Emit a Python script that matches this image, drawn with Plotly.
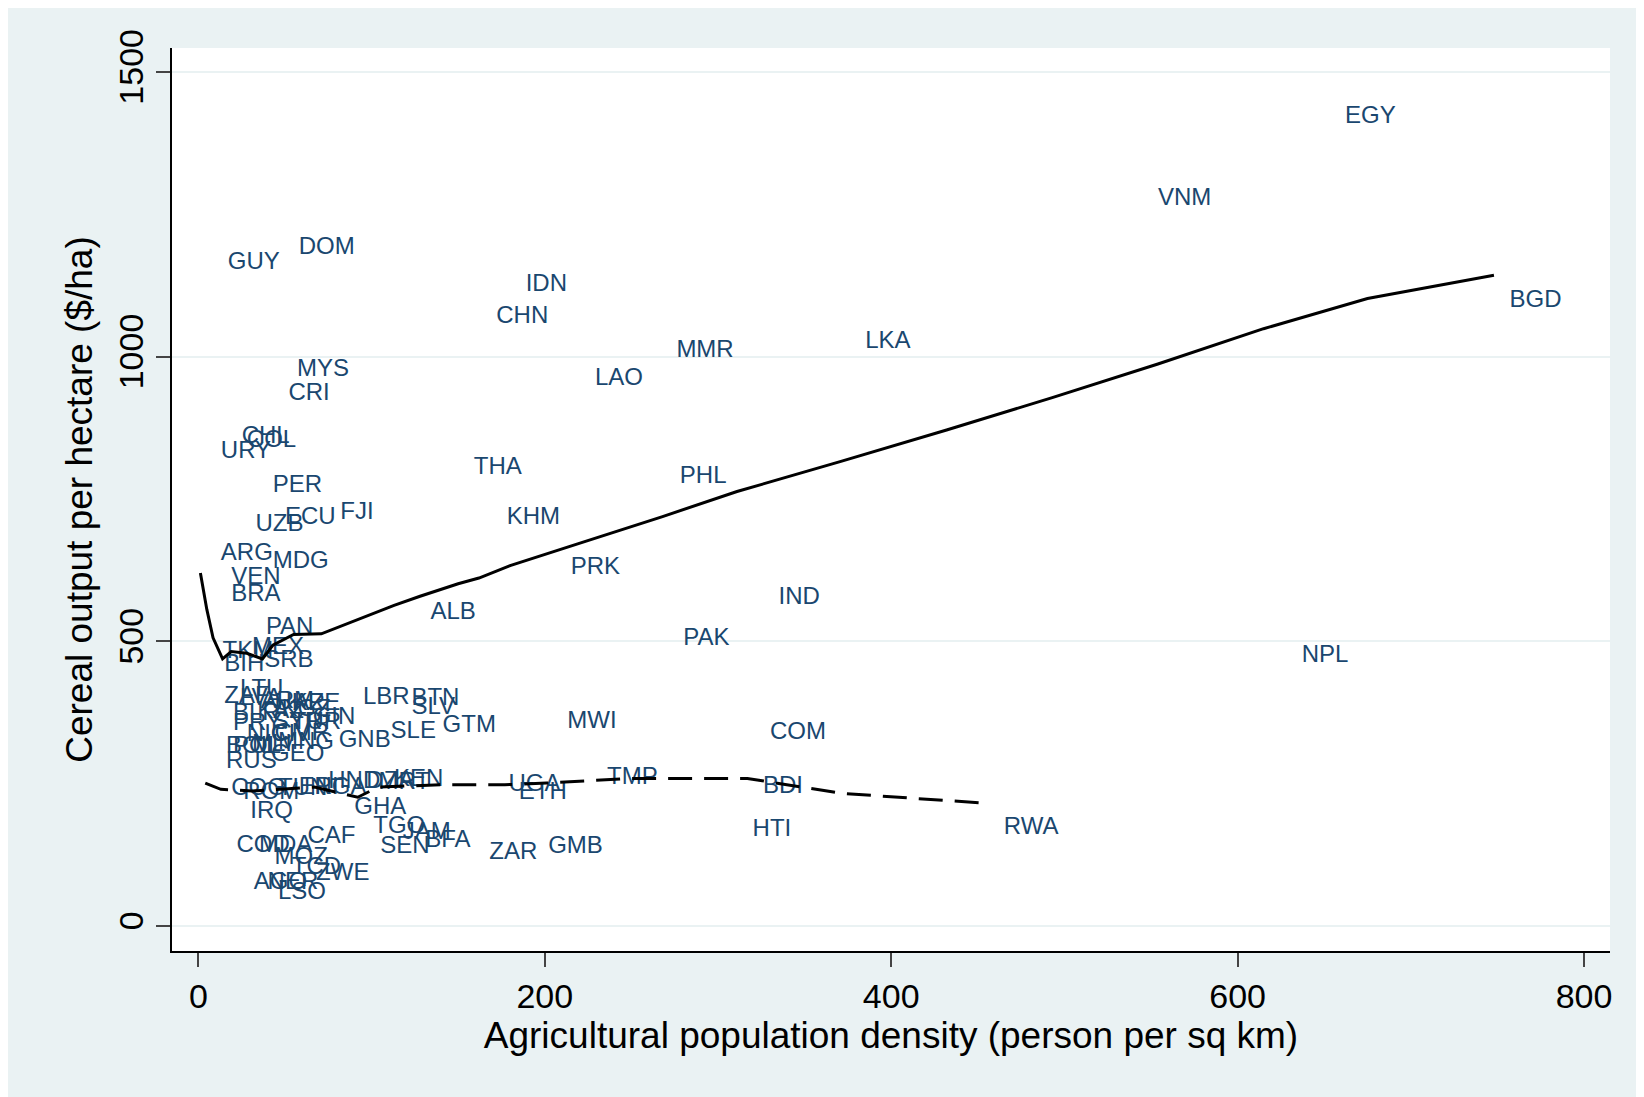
import plotly.graph_objects as go

labels = ["EGY","VNM","GUY","DOM","IDN","CHN","BGD","MMR","LKA","MYS","CRI","LAO","CHL","COL","URY","THA","PHL","PER","FJI","ECU","UZB","KHM","ARG","MDG","PRK","VEN","BRA","IND","ALB","PAN","PAK","NPL","TKM","MEX","BIH","SRB",
          "ZAF","LTU","LVA","ARM","UKR","AZE","BLR","KAZ","KGZ","GIN","PRY","SYR","TUR","NIC","CIV","CMR","BOL","POL","MLI","MNG","GNB","GEO","RUS",
          "SLE","LBR","BTN","SLV","GTM","MWI","COM","COG","ROM","TUN","ERI","NGA","HND","DZA","MRT","KEN","UGA","ETH","TMP","BDI","IRQ","GHA","HTI","RWA",
          "TGO","JAM","BFA","SEN","ZAR","GMB","CAF","COD","MDA","MOZ","TCD","ZWE","AGO","NER","LSO"]
dens = [662,554,17,58,189,172,757,276,385,57,52,229,25,28,13,159,278,43,82,50,33,178,13,43,215,19,19,335,134,39,280,637,14,31,15,38,
        15,24,24,36,44,55,20,34,48,66,20,43,54,28,42,44,16,20,31,46,81,42,16,
        111,95,123,123,141,213,330,19,26,46,58,67,75,97,104,113,179,185,236,326,30,90,320,465,
        101,118,131,105,168,202,63,22,35,44,54,68,32,40,46]
yield_ = [1421,1276,1164,1190,1126,1069,1097,1010,1025,976,935,961,858,851,833,805,789,772,726,717,704,717,653,640,629,611,581,576,550,524,504,475,482,488,458,466,
          402,414,398,394,390,389,372,376,380,365,354,356,356,336,336,338,314,314,318,322,325,301,288,
          341,400,398,383,352,359,339,240,234,240,242,242,253,252,251,257,248,233,259,244,200,207,169,172,
          174,164,149,138,128,138,156,140,141,119,101,92,75,75,57]

fit_x = [1.2,4.9,8.5,14,19,28,37,43,55,71,113,128,150,162,180,201,219,268,311,371,432,493,554,615,675,748]
fit_y = [620,556,506,469,482,479,469,493,512,513,563,579,601,611,633,653,671,719,763,816,871,928,987,1049,1102,1143]
fit2_x = [4,13,31,67,92,104,140,177,201,250,317,371,457]
fit2_y = [251,240,237,244,226,244,248,248,251,259,259,233,215]

fig = go.Figure()
fig.add_trace(go.Scatter(x=dens, y=yield_, mode="text", text=labels, textposition="middle right",
                         textfont=dict(family="Liberation Sans, Arial", size=24, color="#1a476f")))
fig.add_trace(go.Scatter(x=fit_x, y=fit_y, mode="lines", line=dict(color="black", width=3)))
fig.add_trace(go.Scatter(x=fit2_x, y=fit2_y, mode="lines", line=dict(color="black", width=3, dash="24px,12px")))

fig.update_layout(
    width=1644, height=1097, showlegend=False,
    paper_bgcolor="#eaf2f3", plot_bgcolor="white",
    margin=dict(l=164, r=42, t=40, b=154),
    font=dict(family="Liberation Sans, Arial", color="black"),
)
fig.update_xaxes(range=[-15.2, 815], tickvals=[0,200,400,600,800], showgrid=False, zeroline=False,
                 showline=True, linecolor="black", linewidth=1.5, ticks="outside", ticklen=14, tickwidth=1.5,
                 tickfont=dict(size=34), title=dict(text="Agricultural population density (person per sq km)", font=dict(size=37), standoff=2))
fig.update_yaxes(range=[-44, 1542], tickvals=[0,500,1000,1500], showgrid=True, gridcolor="#eaf2f3", gridwidth=2, zeroline=False,
                 showline=True, linecolor="black", linewidth=1.5, ticks="outside", ticklen=14, tickwidth=1.5, tickangle=-90,
                 tickfont=dict(size=34), title=dict(text="Cereal output per hectare ($/ha)", font=dict(size=37), standoff=8))
fig.write_html("out.html")
